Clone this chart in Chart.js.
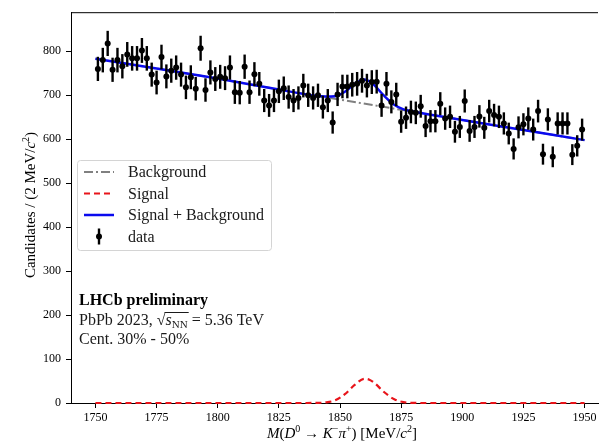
<!DOCTYPE html>
<html>
<head>
<meta charset="UTF-8">
<title>D0 mass fit</title>
<script src="https://cdn.jsdelivr.net/npm/chart.js@4.4.1/dist/chart.umd.min.js"></script>
<style>
  html, body { margin: 0; padding: 0; background: #fff; overflow: hidden; }
  #wrap { width: 602px; height: 445px; }
</style>
</head>
<body>
<div id="wrap"><canvas id="grafico"></canvas></div>
<script>
// bins of 2 MeV starting at 1750
const binStart = 1750;
const binWidth = 2;

// candidates per bin
const counts = [
  760, 780, 818, 758, 780, 766, 793, 784, 784, 802,
  784, 747, 729, 787, 743, 756, 763, 747, 718, 741,
  715, 807, 712, 752, 737, 742, 739, 763, 707, 706,
  765, 707, 748, 726, 688, 677, 688, 709, 716, 696,
  688, 694, 722, 700, 694, 700, 673, 688, 638, 702,
  720, 720, 724, 726, 733, 722, 730, 731, 677, 726,
  685, 702, 640, 649, 662, 660, 675, 630, 641, 641,
  681, 647, 651, 617, 628, 687, 619, 628, 652, 626,
  664, 655, 651, 636, 613, 578, 627, 634, 647, 622,
  664, 566, 645, 560, 636, 636, 636, 565, 585, 622
];

// fit curves
const bkgMass = [1750, 1775, 1800, 1825, 1850, 1875, 1900, 1925, 1950];
const bkgVals = [783, 761, 738, 713, 690, 667, 644, 621, 598];

const sigMass = [1750, 1836, 1840, 1844, 1848, 1852, 1856, 1860, 1862, 1864, 1868, 1872, 1876, 1880, 1886, 1950];
const sigVals = [0, 0, 0.3, 1.3, 6, 20, 41, 55, 53, 46, 25, 9, 2, 0.3, 0, 0];

const totMass = [1750, 1775, 1800, 1825, 1840, 1844, 1848, 1852, 1856, 1860, 1862, 1864, 1868, 1872, 1876, 1880, 1900, 1925, 1950];
const totVals = [783, 761, 738, 713, 699, 697, 698, 708, 726, 736, 732, 723, 699, 679, 668, 663, 644, 621, 598];

const xTicks = [1750, 1775, 1800, 1825, 1850, 1875, 1900, 1925, 1950];
const yTicks = [0, 100, 200, 300, 400, 500, 600, 700, 800];

const serif = "'Liberation Serif', 'DejaVu Serif', serif";

function pts(xs, ys) {
  return xs.map((x, i) => ({ x: x, y: ys[i] }));
}

const dataPts = counts.map((c, i) => ({
  x: binStart + binWidth * i + binWidth / 2,
  y: c,
  err: Math.sqrt(c)
}));

// text with mixed fonts: parts = [text, font, dy]
function drawRich(ctx, parts, x, y, align) {
  let w = 0;
  parts.forEach(p => { ctx.font = p[1]; w += ctx.measureText(p[0]).width; });
  let cx = align === 'center' ? x - w / 2 : x;
  const pos = [];
  parts.forEach(p => {
    ctx.font = p[1];
    ctx.fillText(p[0], cx, y + (p[2] || 0));
    const pw = ctx.measureText(p[0]).width;
    pos.push([cx, pw]);
    cx += pw;
  });
  return pos;
}

const errorBars = {
  id: 'errorBars',
  afterDatasetsDraw(chart) {
    const ctx = chart.ctx;
    const xs = chart.scales.x, ys = chart.scales.y;
    ctx.save();
    ctx.strokeStyle = '#000';
    ctx.lineWidth = 2.4;
    dataPts.forEach(p => {
      const px = xs.getPixelForValue(p.x);
      ctx.beginPath();
      ctx.moveTo(px, ys.getPixelForValue(p.y - p.err));
      ctx.lineTo(px, ys.getPixelForValue(p.y + p.err));
      ctx.stroke();
    });
    ctx.restore();
  }
};

const frameAndText = {
  id: 'frameAndText',
  afterDraw(chart) {
    const ctx = chart.ctx;
    const a = chart.chartArea;
    ctx.save();
    // top spine
    ctx.strokeStyle = '#000';
    ctx.lineWidth = 1;
    ctx.beginPath();
    ctx.moveTo(a.left, a.top + 0.5);
    ctx.lineTo(a.right, a.top + 0.5);
    ctx.stroke();

    // legend
    const lx = 77, ly = 160, lw = 194, lh = 90;
    ctx.fillStyle = 'rgba(255,255,255,0.85)';
    ctx.strokeStyle = '#d4d4d4';
    ctx.lineWidth = 1;
    ctx.beginPath();
    ctx.roundRect(lx + 0.5, ly + 0.5, lw, lh, 3);
    ctx.fill();
    ctx.stroke();

    const rows = [172, 193.5, 215, 236.5];
    const labels = ['Background', 'Signal', 'Signal + Background', 'data'];
    const ds = chart.data.datasets;
    const styles = [ds[0], ds[1], ds[2]];
    styles.forEach((d, i) => {
      ctx.strokeStyle = d.borderColor;
      ctx.lineWidth = d.borderWidth;
      ctx.setLineDash(d.borderDash || []);
      ctx.beginPath();
      ctx.moveTo(84, rows[i]);
      ctx.lineTo(114, rows[i]);
      ctx.stroke();
    });
    ctx.setLineDash([]);
    ctx.strokeStyle = '#000';
    ctx.lineWidth = 2.4;
    ctx.beginPath();
    ctx.moveTo(99, rows[3] - 8);
    ctx.lineTo(99, rows[3] + 8);
    ctx.stroke();
    ctx.fillStyle = '#000';
    ctx.beginPath();
    ctx.arc(99, rows[3], 3, 0, Math.PI * 2);
    ctx.fill();

    ctx.fillStyle = '#1a1a1a';
    ctx.textBaseline = 'middle';
    ctx.font = '16px ' + serif;
    labels.forEach((t, i) => ctx.fillText(t, 128, rows[i] + 1));

    // annotation
    ctx.textBaseline = 'alphabetic';
    ctx.fillStyle = '#000';
    ctx.font = 'bold 16px ' + serif;
    ctx.fillText('LHCb preliminary', 79, 305);
    ctx.fillStyle = '#1a1a1a';
    const f = '16px ' + serif, fi = 'italic 16px ' + serif, fs = '11px ' + serif;
    const pos = drawRich(ctx, [
      ['PbPb 2023, ', f], ['\u221A', f], ['s', fi], ['NN', fs, 3], [' = 5.36 TeV', f]
    ], 79, 325, 'left');
    ctx.strokeStyle = '#1a1a1a';
    ctx.lineWidth = 1;
    ctx.beginPath();
    ctx.moveTo(pos[1][0] + pos[1][1] - 1, 312.5);
    ctx.lineTo(pos[3][0] + pos[3][1] + 1, 312.5);
    ctx.stroke();
    ctx.font = f;
    ctx.fillText('Cent. 30% - 50%', 79, 344);

    // axis titles
    ctx.fillStyle = '#000';
    ctx.textBaseline = 'alphabetic';
    const t = '15px ' + serif, ti = 'italic 15px ' + serif, ts = '10px ' + serif;
    drawRich(ctx, [
      ['M', ti], ['(', t], ['D', ti], ['0', ts, -6], [' \u2192 ', t], ['K', ti], ['\u2212', ts, -6],
      ['\u03C0', ti], ['+', ts, -6], [') [MeV/', t], ['c', ti], ['2', ts, -6], [']', t]
    ], 342, 438, 'center');

    ctx.translate(35, 205);
    ctx.rotate(-Math.PI / 2);
    drawRich(ctx, [
      ['Candidates / (2 MeV/', t], ['c', ti], ['2', ts, -6], [')', t]
    ], 0, 0, 'center');
    ctx.restore();
  }
};

const ctx = document.getElementById('grafico').getContext('2d');
new Chart(ctx, {
  type: 'scatter',
  data: {
    datasets: [
      {
        label: 'Background',
        data: pts(bkgMass, bkgVals),
        showLine: true,
        borderColor: '#808080',
        borderWidth: 2,
        borderDash: [9, 3, 2, 3],
        pointRadius: 0,
        order: 3
      },
      {
        label: 'Signal',
        data: pts(sigMass, sigVals),
        showLine: true,
        borderColor: '#e8141a',
        borderWidth: 2.2,
        borderDash: [6, 4],
        pointRadius: 0,
        cubicInterpolationMode: 'monotone',
        clip: false,
        order: 2
      },
      {
        label: 'Signal + Background',
        data: pts(totMass, totVals),
        showLine: true,
        borderColor: '#0a0aee',
        borderWidth: 2.5,
        pointRadius: 0,
        cubicInterpolationMode: 'monotone',
        order: 1
      },
      {
        label: 'data',
        data: dataPts,
        showLine: false,
        pointRadius: 3,
        pointBackgroundColor: '#000',
        pointBorderWidth: 0,
        order: 0
      }
    ]
  },
  options: {
    responsive: true,
    maintainAspectRatio: false,
    animation: false,
    events: [],
    layout: { padding: { top: 7, right: 0, left: 0, bottom: 0 } },
    plugins: { legend: { display: false }, tooltip: { enabled: false } },
    scales: {
      x: {
        type: 'linear',
        min: 1740,
        max: 1955.5,
        afterFit(scale) { scale.height = 42; },
        afterBuildTicks(scale) { scale.ticks = xTicks.map(v => ({ value: v })); },
        grid: { drawOnChartArea: false, drawTicks: true, tickLength: 5, color: '#000' },
        border: { display: true, color: '#000', width: 1 },
        ticks: {
          color: '#000', padding: 3, maxRotation: 0,
          font: { family: serif, size: 12 },
          callback: v => String(v)
        }
      },
      y: {
        min: 0,
        max: 889,
        afterFit(scale) { scale.width = 71; },
        afterBuildTicks(scale) { scale.ticks = yTicks.map(v => ({ value: v })); },
        grid: { drawOnChartArea: false, drawTicks: true, tickLength: 5, color: '#000' },
        border: { display: true, color: '#000', width: 1 },
        ticks: {
          color: '#000', padding: 5,
          font: { family: serif, size: 12 },
          callback: v => String(v)
        }
      }
    }
  },
  plugins: [errorBars, frameAndText]
});
</script>
</body>
</html>
